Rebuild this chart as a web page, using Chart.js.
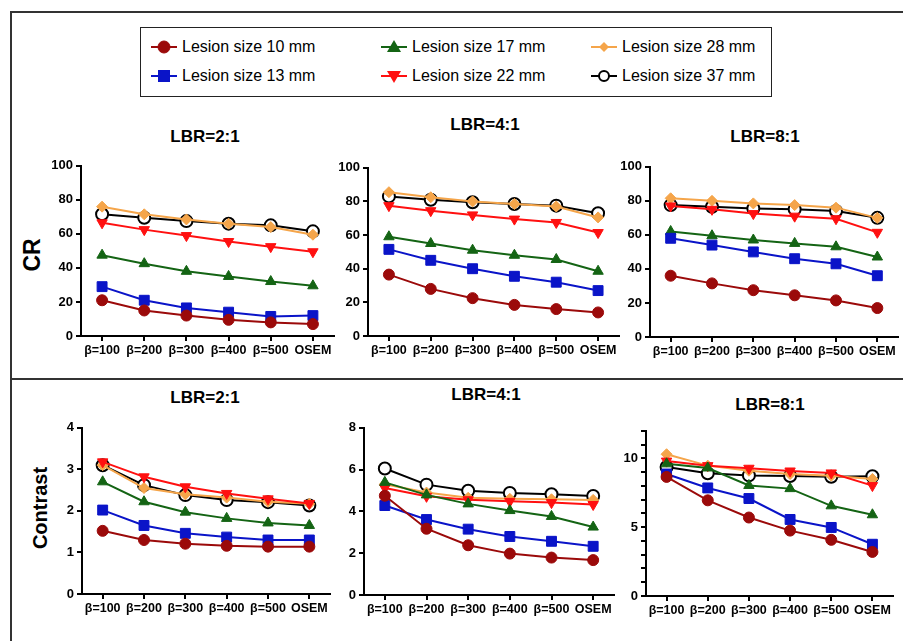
<!DOCTYPE html>
<html>
<head>
<meta charset="utf-8">
<script src="https://cdn.jsdelivr.net/npm/chart.js@4.4.0/dist/chart.umd.min.js"></script>
<style>
  body { margin: 0; width: 903px; height: 641px; overflow: hidden; background: #fff; position: relative;
         font-family: 'Liberation Sans', Arial, sans-serif; color: #000; }
  .frame { position: absolute; left: 10px; top: 11px; right: -5px; bottom: -5px; border-left: 2px solid #333; border-top: 2px solid #333; }
  .sep { position: absolute; left: 10px; right: 0; top: 378px; border-top: 2px solid #333; }
  .panel { position: absolute; }
  .title { position: absolute; font-weight: bold; font-size: 17px; transform: translate(-50%, -50%); white-space: nowrap; }
  .ylab { position: absolute; font-weight: bold; transform: translate(-50%, -50%) rotate(-90deg); white-space: nowrap; }
  .legend { position: absolute; left: 140px; top: 27px; width: 630px; height: 68px; border: 1.5px solid #222; }
  .item { position: absolute; font-size: 16px; display: flex; align-items: center; height: 20px; }
  .item svg { margin-right: 5px; }
</style>
</head>
<body>
<div class="frame"></div>
<div class="sep"></div>
<div class="legend" id="legend"></div>

<div class="ylab" style="left:32px;top:255px;font-size:23px">CR</div>
<div class="ylab" style="left:40px;top:508px;font-size:20px">Contrast</div>

<div class="title" style="left:205px;top:137px">LBR=2:1</div>
<div class="title" style="left:485px;top:125px">LBR=4:1</div>
<div class="title" style="left:765px;top:137px">LBR=8:1</div>
<div class="title" style="left:205px;top:398px">LBR=2:1</div>
<div class="title" style="left:486px;top:395px">LBR=4:1</div>
<div class="title" style="left:770px;top:405px">LBR=8:1</div>

<canvas class="panel" id="p1"></canvas>
<canvas class="panel" id="p2"></canvas>
<canvas class="panel" id="p3"></canvas>
<canvas class="panel" id="p4"></canvas>
<canvas class="panel" id="p5"></canvas>
<canvas class="panel" id="p6"></canvas>

<script>
// Données
const categories = ['β=100', 'β=200', 'β=300', 'β=400', 'β=500', 'OSEM'];
const lesionLabels = ['Lesion size 10 mm', 'Lesion size 13 mm', 'Lesion size 17 mm',
                      'Lesion size 22 mm', 'Lesion size 28 mm', 'Lesion size 37 mm'];

// CR (une ligne par taille de lésion : 10, 13, 17, 22, 28, 37 mm)
const crLBR2 = [
  [21, 15, 12, 9.5, 8, 7],
  [29, 21, 16.5, 14, 11.5, 12],
  [47.5, 42.5, 38, 35, 32, 29.5],
  [66.5, 62.5, 59, 55.5, 52.5, 49.5],
  [76, 71.5, 68.5, 66, 64, 59.5],
  [71.5, 69.5, 67.5, 66, 65, 61.5]
];
const crLBR4 = [
  [36.5, 28, 22.5, 18.5, 16, 14],
  [51.5, 45, 40, 35.5, 32, 27],
  [59, 55, 51, 48, 45.5, 38.5],
  [77.5, 74.5, 72, 69.5, 67.5, 61.5],
  [85.5, 82.5, 80, 78.5, 77, 70.5],
  [83, 81, 79.5, 78.5, 77.5, 73]
];
const crLBR8 = [
  [36, 31.5, 27.5, 24.5, 21.5, 17],
  [58, 54, 50, 46, 43, 36],
  [62, 59.5, 57, 55, 53, 47],
  [77, 75, 72.5, 71, 69.5, 61.5],
  [81.5, 80, 78.5, 77.5, 76, 70],
  [77.5, 76.5, 75.5, 75, 74, 70]
];

// Contrast
const contrastLBR2 = [
  [1.52, 1.3, 1.21, 1.16, 1.14, 1.14],
  [2.02, 1.65, 1.46, 1.37, 1.3, 1.3],
  [2.7, 2.22, 1.97, 1.82, 1.71, 1.65],
  [3.18, 2.82, 2.58, 2.42, 2.29, 2.18],
  [3.1, 2.55, 2.4, 2.32, 2.22, 2.17],
  [3.1, 2.62, 2.38, 2.26, 2.21, 2.13]
];
const contrastLBR4 = [
  [4.75, 3.17, 2.38, 1.98, 1.79, 1.67],
  [4.28, 3.61, 3.15, 2.8, 2.57, 2.33],
  [5.39, 4.79, 4.36, 4.04, 3.76, 3.25],
  [5.12, 4.72, 4.56, 4.48, 4.42, 4.33],
  [5.3, 4.9, 4.65, 4.6, 4.58, 4.55],
  [6.05, 5.28, 4.99, 4.88, 4.82, 4.74]
];
const contrastLBR8 = [
  [8.65, 6.95, 5.7, 4.75, 4.08, 3.2],
  [8.86, 7.85, 7.08, 5.56, 4.98, 3.76],
  [9.6, 9.3, 8.03, 7.8, 6.55, 5.9],
  [9.8, 9.47, 9.28, 9.08, 8.94, 8.02],
  [10.3, 9.47, 9.1, 8.86, 8.74, 8.5],
  [9.37, 8.91, 8.76, 8.72, 8.66, 8.7]
];

// Styles des séries
const colors = ['#9b0a0a', '#0a14c8', '#146414', '#ff1010', '#f5a54a', '#000000'];
const fills = ['#9b0a0a', '#0a14c8', '#146414', '#ff1010', '#f5a54a', '#ffffff'];
const shapes = ['circle', 'rect', 'triangle', 'triangle', 'rectRot', 'circle'];
const rotations = [0, 0, 0, 180, 0, 0];
const radii = [5.5, 7, 6, 6, 5.5, 6];

const fontFamily = "'Liberation Sans', Arial, sans-serif";

// Légende HTML (3 colonnes x 2 lignes)
function markerSvg(i) {
  const c = colors[i], f = fills[i];
  let m = '';
  if (shapes[i] === 'circle') m = `<circle cx="13" cy="10" r="${i === 5 ? 5 : 6}" fill="${f}" stroke="${c}" stroke-width="${i === 5 ? 2 : 1}"/>`;
  if (shapes[i] === 'rect') m = `<rect x="7" y="4" width="12" height="12" fill="${f}"/>`;
  if (shapes[i] === 'triangle' && rotations[i] === 0) m = `<polygon points="13,3 20,15 6,15" fill="${f}"/>`;
  if (shapes[i] === 'triangle' && rotations[i] === 180) m = `<polygon points="13,17 20,5 6,5" fill="${f}"/>`;
  if (shapes[i] === 'rectRot') m = `<polygon points="13,5 18,10 13,15 8,10" fill="${f}"/>`;
  return `<svg width="26" height="20"><line x1="0" y1="10" x2="26" y2="10" stroke="${c}" stroke-width="2"/>${m}</svg>`;
}
const legend = document.getElementById('legend');
const colX = [10, 240, 450];
lesionLabels.forEach((label, i) => {
  const div = document.createElement('div');
  div.className = 'item';
  div.style.left = colX[Math.floor(i / 2)] + 'px';
  div.style.top = (i % 2 === 0 ? 9 : 38) + 'px';
  div.innerHTML = markerSvg(i) + '<span>' + label + '</span>';
  legend.appendChild(div);
});

// Création d'un panneau
function makePanel(id, area, yMax, yStep, values, labelEvery) {
  const canvas = document.getElementById(id);
  const padL = 45, padT = 10, padR = 4, padB = 30;
  const w = area.r - area.l + padL + padR;
  const h = area.b - area.t + padT + padB;
  canvas.width = w;
  canvas.height = h;
  canvas.style.left = (area.l - padL) + 'px';
  canvas.style.top = (area.t - padT) + 'px';
  canvas.style.width = w + 'px';
  canvas.style.height = h + 'px';

  const datasets = values.map((data, i) => ({
    label: lesionLabels[i],
    data: data,
    borderColor: colors[i],
    backgroundColor: fills[i],
    pointBackgroundColor: fills[i],
    pointBorderColor: colors[i],
    pointBorderWidth: i === 5 ? 2 : 1,
    pointStyle: shapes[i],
    pointRotation: rotations[i],
    pointRadius: radii[i],
    borderWidth: 2,
    tension: 0
  }));

  new Chart(canvas, {
    type: 'line',
    data: { labels: categories, datasets: datasets },
    options: {
      responsive: false,
      animation: false,
      devicePixelRatio: 1,
      layout: { padding: { top: padT, right: padR, left: 0, bottom: 0 } },
      plugins: { legend: { display: false }, tooltip: { enabled: false } },
      scales: {
        x: {
          offset: true,
          afterFit: s => { s.height = padB; },
          grid: { drawOnChartArea: false, drawTicks: true, tickLength: 5, color: '#000', lineWidth: 2 },
          border: { color: '#000', width: 2 },
          ticks: { color: '#000', font: { family: fontFamily, size: 12.5, weight: 'bold' },
                   maxRotation: 0, autoSkip: false, padding: 2 }
        },
        y: {
          min: 0,
          max: yMax,
          afterFit: s => { s.width = padL; },
          grid: { drawOnChartArea: false, drawTicks: true, tickLength: 5, color: '#000', lineWidth: 2 },
          border: { color: '#000', width: 2 },
          ticks: {
            color: '#000', font: { family: fontFamily, size: 13, weight: 'bold' },
            stepSize: yStep, maxTicksLimit: 20, autoSkip: false, padding: 3,
            callback: v => (labelEvery && v % labelEvery !== 0) ? '' : v
          }
        }
      }
    }
  });
}

makePanel('p1', { l: 81, r: 338, t: 165, b: 336 }, 100, 20, crLBR2);
makePanel('p2', { l: 368, r: 623, t: 167, b: 336 }, 100, 20, crLBR4);
makePanel('p3', { l: 650, r: 902, t: 166, b: 337 }, 100, 20, crLBR8);
makePanel('p4', { l: 82, r: 334, t: 427, b: 594 }, 4, 1, contrastLBR2);
makePanel('p5', { l: 364, r: 618, t: 427, b: 595 }, 8, 2, contrastLBR4);
makePanel('p6', { l: 646, r: 897, t: 430, b: 596 }, 12, 1, contrastLBR8, 5);
</script>
</body>
</html>
